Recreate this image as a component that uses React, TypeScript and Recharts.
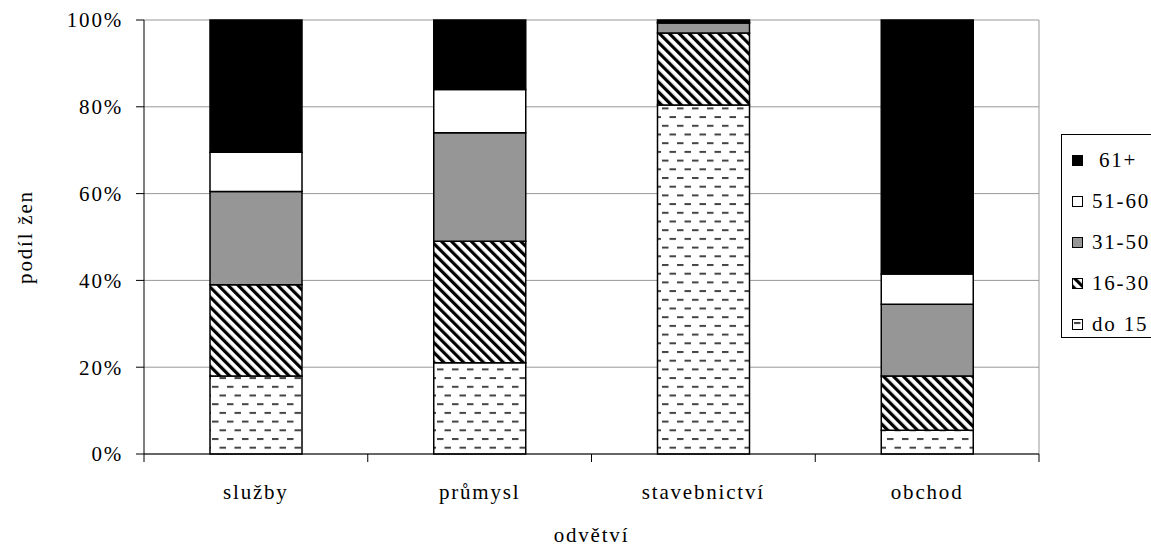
import React from 'react'
import { Bar, BarChart, CartesianGrid, XAxis, YAxis } from 'recharts'

const categories = ['služby', 'průmysl', 'stavebnictví', 'obchod']
const do15 = [18, 21, 80.4, 5.5]
const r16_30 = [21, 28, 16.6, 12.5]
const r31_50 = [21.5, 25, 2.3, 16.5]
const r51_60 = [9, 10, 0.2, 7]
const r61 = [30.5, 16, 0.5, 58.5]
const yTicks = [0, 20, 40, 60, 80, 100]

const W = 1151
const H = 547
const M = { top: 20, right: 112, left: 0, bottom: 0 }
const Y_W = 144
const X_H = 93
const BAND_HALF = (W - Y_W - M.right) / categories.length / 2

const FONT = '"Liberation Serif", "Times New Roman", serif'
const FS = 21
const LS = 1.8

const series = [
  { key: 'do15', name: 'do 15', fill: 'url(#dashes)' },
  { key: 'r16_30', name: '16-30', fill: 'url(#stripes)' },
  { key: 'r31_50', name: '31-50', fill: '#969696' },
  { key: 'r51_60', name: '51-60', fill: '#ffffff' },
  { key: 'r61', name: '61+', fill: '#000000' },
]

const data = categories.map((c, i) => ({
  name: c,
  do15: do15[i],
  r16_30: r16_30[i],
  r31_50: r31_50[i],
  r51_60: r51_60[i],
  r61: r61[i],
}))

function Patterns() {
  return (
    <defs>
      <pattern id="stripes" width="7" height="7" patternUnits="userSpaceOnUse" patternTransform="rotate(-45)">
        <rect width="7" height="7" fill="#fff" />
        <rect width="3.2" height="7" fill="#000" />
      </pattern>
      <pattern id="dashes" width="15" height="17.4" patternUnits="userSpaceOnUse" x="2" y="3">
        <rect width="15" height="17.4" fill="#fff" />
        <rect x="0" y="0" width="6.5" height="2" fill="#444" />
        <rect x="7.5" y="8.7" width="6.5" height="2" fill="#444" />
      </pattern>
    </defs>
  )
}

function CatTick(props: any) {
  const { x, y, payload, index, visibleTicksCount } = props
  const half = payload?.offset ?? BAND_HALF
  return (
    <g>
      <line x1={x - half} y1={y} x2={x - half} y2={y + 8} stroke="#000" />
      {index === visibleTicksCount - 1 && <line x1={x + half} y1={y} x2={x + half} y2={y + 8} stroke="#000" />}
      <text x={x} y={y + 38} textAnchor="middle" dominantBaseline="central" fontFamily={FONT} fontSize={FS} letterSpacing={LS} fill="#000">
        {payload.value}
      </text>
    </g>
  )
}

function Swatch({ fill }: { fill: string }) {
  return (
    <svg width="11" height="11" style={{ display: 'block' }}>
      <Patterns />
      <rect x="0.5" y="0.5" width="10" height="10" fill={fill} stroke="#000" />
    </svg>
  )
}

export default function App() {
  return (
    <div style={{ position: 'absolute', left: 0, top: 0, width: W, height: H, overflow: 'hidden', background: '#fff' }}>
      <BarChart width={W} height={H} data={data} margin={M} barSize={92}>
        <Patterns />
        <CartesianGrid
          stroke="#999"
          verticalCoordinatesGenerator={({ offset }: any) => [offset.left + offset.width]}
        />
        <XAxis
          dataKey="name"
          height={X_H}
          tickSize={0}
          tickMargin={0}
          axisLine={{ stroke: '#000' }}
          tick={<CatTick />}
          interval={0}
          label={{
            value: 'odvětví',
            content: (p: any) => (
              <text x={p.viewBox.x + p.viewBox.width / 2} y={535} textAnchor="middle" dominantBaseline="central" fontFamily={FONT} fontSize={FS} letterSpacing={LS} fill="#000">
                odvětví
              </text>
            ),
          }}
        />
        <YAxis
          width={Y_W}
          domain={[0, 100]}
          ticks={yTicks}
          tickFormatter={(v: number) => `${v}%`}
          tickSize={8}
          tickMargin={13}
          axisLine={{ stroke: '#000' }}
          tickLine={{ stroke: '#000' }}
          tick={{ fontFamily: FONT, fontSize: FS, fill: '#000', letterSpacing: LS }}
          label={{
            value: 'podíl žen',
            content: (p: any) => {
              const cy = p.viewBox.y + p.viewBox.height / 2
              return (
                <text x={25} y={cy} transform={`rotate(-90 25 ${cy})`} textAnchor="middle" dominantBaseline="central" fontFamily={FONT} fontSize={FS} letterSpacing={LS} fill="#000">
                  podíl žen
                </text>
              )
            },
          }}
        />
        {series.map((s) => (
          <Bar key={s.key} dataKey={s.key} name={s.name} stackId="a" fill={s.fill} stroke="#000" strokeWidth={1.5} isAnimationActive={false} />
        ))}
      </BarChart>
      <div
        style={{
          position: 'absolute',
          left: 1061,
          top: 134,
          width: 110,
          height: 204,
          border: '1px solid #000',
          boxSizing: 'border-box',
          fontFamily: FONT,
          fontSize: FS,
          letterSpacing: LS,
        }}
      >
        {[...series].reverse().map((s, i) => (
          <div key={s.key} style={{ position: 'absolute', left: 10, top: 13 + i * 41, display: 'flex', alignItems: 'center', height: 24 }}>
            <Swatch fill={s.fill} />
            <span style={{ marginLeft: s.key === 'r61' ? 16 : 9, whiteSpace: 'pre' }}>{s.name}</span>
          </div>
        ))}
      </div>
    </div>
  )
}
